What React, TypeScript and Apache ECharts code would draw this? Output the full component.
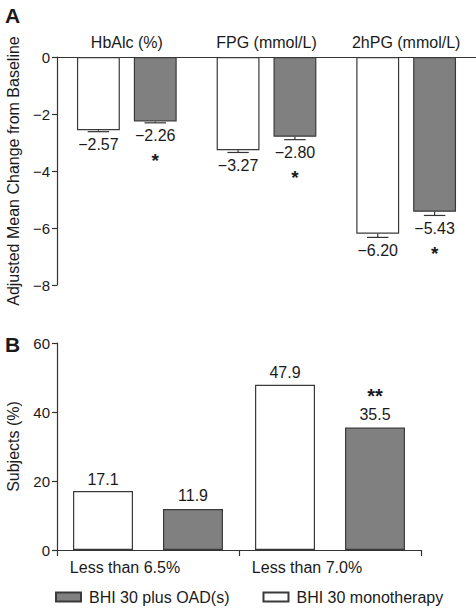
import React, { useEffect, useRef } from "react";
import * as echarts from "echarts";

const measuresA = ["HbAlc (%)", "FPG (mmol/L)", "2hPG (mmol/L)"];
const monoA = [-2.57, -3.27, -6.2];
const oadA = [-2.26, -2.8, -5.43];
const monoErrA = [0.05, 0.08, 0.13];
const oadErrA = [0.05, 0.1, 0.13];
const monoSigA = ["", "", ""];
const oadSigA = ["*", "*", "*"];
const axisA = { min: -8, max: 0, interval: 2 };

const targetsB = ["Less than 6.5%", "Less than 7.0%"];
const monoB = [17.1, 47.9];
const oadB = [11.9, 35.5];
const oadSigB = ["", "**"];
const axisB = { min: 0, max: 60, interval: 20 };

const NAME_OAD = "BHI 30 plus OAD(s)";
const NAME_MONO = "BHI 30 monotherapy";

const FONT = "'Liberation Sans', Arial, Helvetica, sans-serif";
const INK = "#1a1a1a";
const AXIS = "#333333";
const GRAY = "#808080";
const BORDER = "#3a3a3a";

const CAT_GAP_A = 0.286;
const BAR_GAP_A = 0.326;

const fmt = (v: number) => v.toFixed(2).replace("-", "\u2212");

function makeErrRender(side: number, sigs: string[]) {
  return (params: any, api: any) => {
    const i = params.dataIndex;
    const ci = api.value(0) as number;
    const v = api.value(1) as number;
    const e = api.value(2) as number;
    const band = (api.size([1, 0]) as number[])[0];
    const bw = (band * (1 - CAT_GAP_A)) / (2 + BAR_GAP_A);
    const off = (side * bw * (1 + BAR_GAP_A)) / 2;
    const p0 = api.coord([ci, v]);
    const p1 = api.coord([ci, v - e]);
    const x = p0[0] + off;
    const capHalf = bw / 4;
    const children: any[] = [
      {
        type: "line",
        shape: { x1: x, y1: p0[1], x2: x, y2: p1[1] },
        style: { stroke: AXIS, lineWidth: 1.2 },
      },
      {
        type: "line",
        shape: { x1: x - capHalf, y1: p1[1], x2: x + capHalf, y2: p1[1] },
        style: { stroke: AXIS, lineWidth: 1.2 },
      },
      {
        type: "text",
        x,
        y: p1[1] + 13,
        style: {
          text: fmt(v),
          fill: INK,
          fontSize: 16,
          fontFamily: FONT,
          align: "center",
          verticalAlign: "middle",
        },
      },
    ];
    if (sigs[i]) {
      children.push({
        type: "text",
        x,
        y: p1[1] + 38,
        style: {
          text: sigs[i],
          fill: INK,
          fontSize: 19,
          fontWeight: "bold",
          fontFamily: FONT,
          align: "center",
          verticalAlign: "middle",
        },
      });
    }
    return { type: "group", children };
  };
}

const whiteStyle = { color: "#ffffff", borderColor: BORDER, borderWidth: 1.2 };
const grayStyle = { color: GRAY, borderColor: BORDER, borderWidth: 1.2 };

export default function App() {
  const ref = useRef<HTMLDivElement>(null);
  useEffect(() => {
    if (!ref.current) return;
    const chart = echarts.init(ref.current, undefined, { renderer: "svg" });
    const yLabel = {
      fontSize: 15,
      color: INK,
      fontFamily: FONT,
      margin: 7,
      formatter: (v: number) => String(v).replace("-", "\u2212"),
    };
    chart.setOption({
      animation: false,
      textStyle: { fontFamily: FONT },
      grid: [
        { left: 57, right: 0, top: 57, height: 228, outerBoundsMode: "none", containLabel: false },
        { left: 57, right: 55, top: 343, height: 207, outerBoundsMode: "none", containLabel: false },
      ],
      xAxis: [
        {
          type: "category",
          gridIndex: 0,
          data: measuresA,
          position: "top",
          axisLine: { show: true, lineStyle: { color: AXIS, width: 1.2 } },
          axisTick: { show: false },
          axisLabel: {
            interval: 0,
            hideOverlap: false,
            fontSize: 16,
            color: INK,
            fontFamily: FONT,
            margin: 7,
          },
        },
        {
          type: "category",
          gridIndex: 1,
          data: targetsB,
          position: "bottom",
          axisLine: { show: true, lineStyle: { color: AXIS, width: 1.2 } },
          axisTick: {
            show: true,
            length: 6,
            interval: 0,
            lineStyle: { color: AXIS, width: 1.2 },
          },
          axisLabel: {
            interval: 0,
            fontSize: 16,
            color: INK,
            fontFamily: FONT,
            margin: 9,
            padding: [0, 46, 0, 0],
          },
        },
      ],
      yAxis: [
        {
          type: "value",
          gridIndex: 0,
          ...axisA,
          name: "Adjusted Mean Change from Baseline",
          nameLocation: "middle",
          nameGap: 36,
          nameTextStyle: { fontSize: 16, color: INK, fontFamily: FONT },
          axisLine: { show: true, lineStyle: { color: AXIS, width: 1.2 } },
          axisTick: { show: true, length: 5, lineStyle: { color: AXIS, width: 1.2 } },
          splitLine: { show: false },
          axisLabel: yLabel,
        },
        {
          type: "value",
          gridIndex: 1,
          ...axisB,
          name: "Subjects (%)",
          nameLocation: "middle",
          nameGap: 36,
          nameTextStyle: { fontSize: 16, color: INK, fontFamily: FONT },
          axisLine: { show: true, lineStyle: { color: AXIS, width: 1.2 } },
          axisTick: { show: true, length: 5, lineStyle: { color: AXIS, width: 1.2 } },
          splitLine: { show: false },
          axisLabel: yLabel,
        },
      ],
      legend: {
        data: [NAME_OAD, NAME_MONO],
        left: 55,
        top: 589,
        padding: 0,
        itemWidth: 25,
        itemHeight: 9,
        itemGap: 33,
        icon: "rect",
        textStyle: { fontSize: 16, color: INK, fontFamily: FONT, padding: [0, 0, 0, 3] },
      },
      graphic: [
        {
          type: "text",
          left: 5,
          top: 5,
          style: { text: "A", fontSize: 21, fontWeight: "bold", fill: INK, fontFamily: FONT },
        },
        {
          type: "text",
          left: 5,
          top: 334,
          style: { text: "B", fontSize: 21, fontWeight: "bold", fill: INK, fontFamily: FONT },
        },
      ],
      series: [
        {
          type: "bar",
          name: NAME_MONO,
          xAxisIndex: 0,
          yAxisIndex: 0,
          data: monoA,
          itemStyle: whiteStyle,
          barGap: `${BAR_GAP_A * 100}%`,
          barCategoryGap: `${CAT_GAP_A * 100}%`,
        },
        {
          type: "bar",
          name: NAME_OAD,
          xAxisIndex: 0,
          yAxisIndex: 0,
          data: oadA,
          itemStyle: grayStyle,
          barGap: `${BAR_GAP_A * 100}%`,
          barCategoryGap: `${CAT_GAP_A * 100}%`,
        },
        {
          type: "custom",
          xAxisIndex: 0,
          yAxisIndex: 0,
          clip: false,
          z: 5,
          encode: { x: 0, y: 1 },
          data: monoA.map((v, i) => [i, v, monoErrA[i]]),
          renderItem: makeErrRender(-1, monoSigA),
        },
        {
          type: "custom",
          xAxisIndex: 0,
          yAxisIndex: 0,
          clip: false,
          z: 5,
          encode: { x: 0, y: 1 },
          data: oadA.map((v, i) => [i, v, oadErrA[i]]),
          renderItem: makeErrRender(1, oadSigA),
        },
        {
          type: "bar",
          name: NAME_MONO,
          xAxisIndex: 1,
          yAxisIndex: 1,
          data: monoB,
          itemStyle: whiteStyle,
          barGap: "50%",
          barCategoryGap: "17.6%",
          label: {
            show: true,
            position: "top",
            distance: 4,
            fontSize: 16,
            color: INK,
            fontFamily: FONT,
            formatter: (p: any) => p.value.toFixed(1),
          },
        },
        {
          type: "bar",
          name: NAME_OAD,
          xAxisIndex: 1,
          yAxisIndex: 1,
          data: oadB,
          itemStyle: grayStyle,
          barGap: "50%",
          barCategoryGap: "17.6%",
          label: {
            show: true,
            position: "top",
            distance: 4,
            color: INK,
            fontFamily: FONT,
            formatter: (p: any) => {
              const s = oadSigB[p.dataIndex];
              const v = `{v|${p.value.toFixed(1)}}`;
              return s ? `{s|${s}}\n${v}` : v;
            },
            rich: {
              v: { fontSize: 16, lineHeight: 18, color: INK, fontFamily: FONT },
              s: { fontSize: 20, lineHeight: 20, fontWeight: "bold", color: INK, fontFamily: FONT },
            },
          },
        },
      ],
    });
    return () => chart.dispose();
  }, []);
  return (
    <div
      ref={ref}
      style={{ position: "fixed", left: 0, top: 0, width: 476, height: 608, background: "#fff" }}
    />
  );
}
